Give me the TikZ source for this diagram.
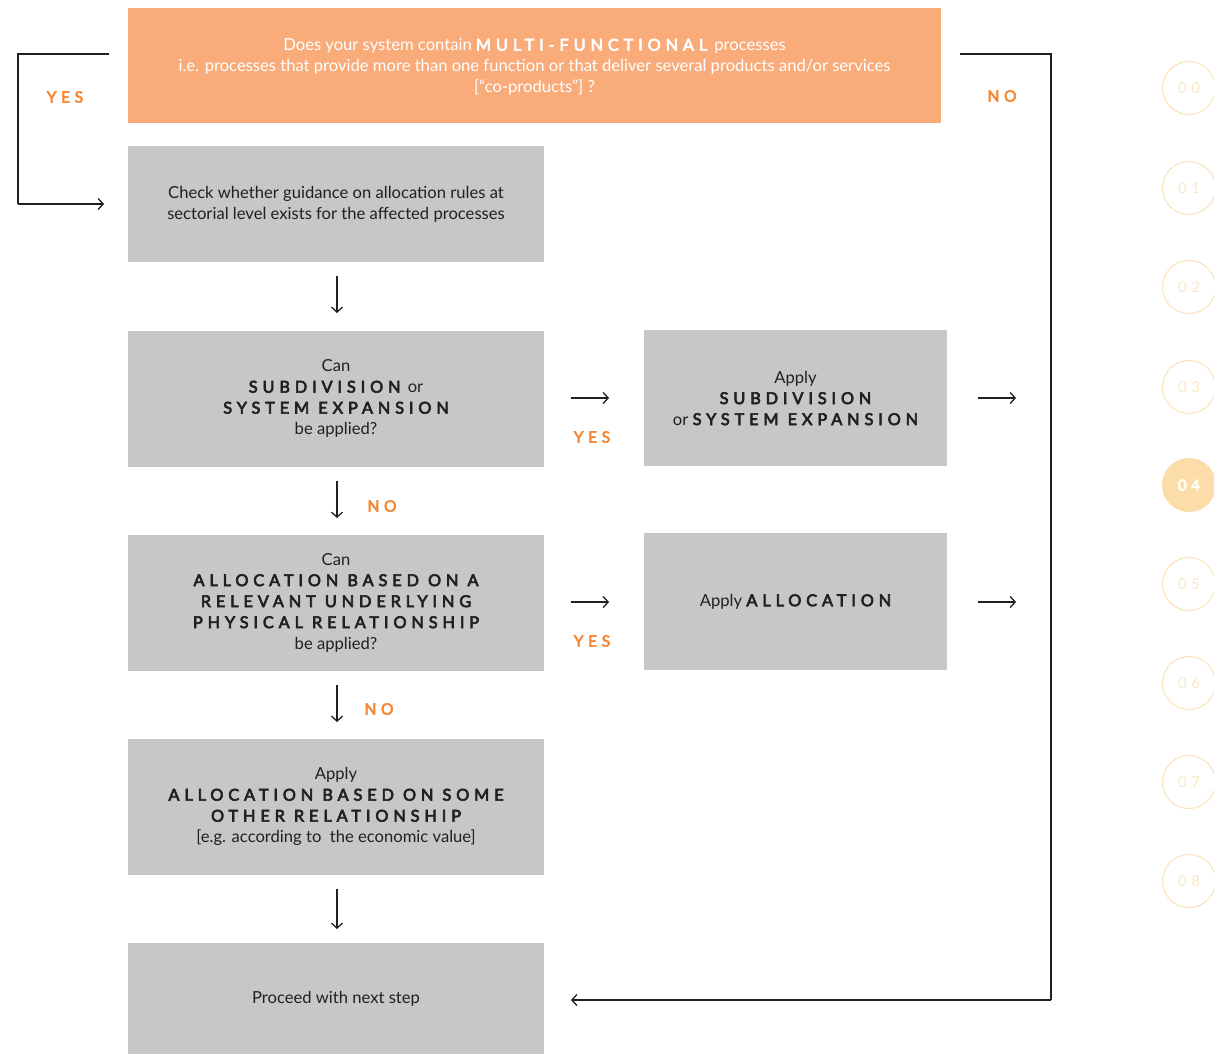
\documentclass[tikz,border=0pt]{standalone}
\usepackage{fontspec}
\setmainfont{Lato}
\newfontfamily\capsfont[LetterSpace=30,FakeBold=4]{Lato}
\newfontfamily\circfont[LetterSpace=30]{Lato}
\usetikzlibrary{arrows.meta}
\definecolor{orangebox}{HTML}{F9AC7A}
\definecolor{graybox}{HTML}{C6C7C7}
\definecolor{txt}{HTML}{231F20}
\definecolor{lbl}{HTML}{F58634}
\definecolor{circ}{HTML}{FDE0B5}
\definecolor{circfill}{HTML}{FCDCA8}
\newcommand{\CAPS}[1]{{\capsfont #1}}
\newcommand{\cs}{\fontsize{16.3}{21}\selectfont}
\tikzset{
  box/.style={fill=graybox, draw=none, inner sep=0pt, align=center, text=txt,
    font=\fontsize{16.6}{21}\selectfont},
  conn/.style={draw=txt, line width=1.3pt, -{Straight Barb[length=5pt,width=11pt,line width=1.3pt]}},
  loop/.style={draw=txt, line width=1.3pt},
  lab/.style={text=lbl, font=\capsfont\fontsize{15.5}{18}\selectfont},
  stepc/.style={circle, draw=circ, line width=1pt, minimum size=53pt, inner sep=0pt,
    text=circ!80, font=\circfont\fontsize{15}{16}\selectfont},
}
\begin{document}
\begin{tikzpicture}[x=1pt,y=-1pt]
\useasboundingbox (0,0) rectangle (1214,1055);
% boxes
\node[box, fill=orangebox, minimum width=813pt, minimum height=115pt] (q) at (534.5,65) {};
\node[align=center, text=white, inner sep=0pt, font=\fontsize{16.6}{21}\selectfont] (qt) at (534.5,67)
  {Does your system contain \CAPS{\cs MULTI-FUNCTIONAL}\hspace{3pt} processes\\
   i.e. processes that provide more than one function or that deliver several products and/or services\\
   {[“co-products”] ?}};
\node[box, minimum width=416pt, minimum height=116pt] (b1) at (336,204)
  {Check whether guidance on allocation rules at\\ sectorial level exists for the affected processes};
\node[box, minimum width=416pt, minimum height=136pt] (b2) at (336,398.5)
  {Can\\ \CAPS{\cs SUBDIVISION}\hspace{3pt} or\\ \CAPS{\cs SYSTEM EXPANSION}\\ be applied?};
\node[box, minimum width=303pt, minimum height=136pt] (a1) at (795.5,398)
  {Apply\\ \CAPS{\cs SUBDIVISION}\\ or \CAPS{\cs SYSTEM EXPANSION}};
\node[box, minimum width=416pt, minimum height=136pt] (b3) at (336,602.5)
  {Can\\ \CAPS{\cs ALLOCATION BASED ON A}\\ \CAPS{\cs RELEVANT UNDERLYING}\\ \CAPS{\cs PHYSICAL RELATIONSHIP}\\ be applied?};
\node[box, minimum width=303pt, minimum height=137pt] (a2) at (795.5,601.5)
  {Apply \CAPS{\cs ALLOCATION}};
\node[box, minimum width=416pt, minimum height=136pt] (b4) at (336,806.5)
  {Apply\\ \CAPS{\cs ALLOCATION BASED ON SOME}\\ \CAPS{\cs OTHER RELATIONSHIP}\\ {[e.g. according to\ \ the economic value]}};
\node[box, minimum width=416pt, minimum height=111pt] (b5) at (336,998.5)
  {Proceed with next step};
% connector coordinates
\coordinate (yl1) at (109,54); \coordinate (yl2) at (18,54); \coordinate (yl3) at (18,204); \coordinate (yl4) at (104,204);
\coordinate (nl1) at (960,54); \coordinate (nl2) at (1051,54); \coordinate (nl3) at (1051,1000); \coordinate (nl4) at (571,1000);
\draw[loop] (yl1) -- (yl2) -- (yl3);
\draw[conn] (yl3) -- (yl4);
\draw[loop] (nl1) -- (nl2) -- (nl3);
\draw[conn] (nl3) -- (nl4);
% short arrows
\coordinate (d1a) at (337,276); \coordinate (d1b) at (337,313);
\coordinate (d2a) at (337,481); \coordinate (d2b) at (337,518);
\coordinate (d3a) at (337,685); \coordinate (d3b) at (337,722);
\coordinate (d4a) at (337,889); \coordinate (d4b) at (337,929);
\coordinate (r1a) at (571,398); \coordinate (r1b) at (609,398);
\coordinate (r2a) at (571,602); \coordinate (r2b) at (609,602);
\coordinate (r3a) at (978,398); \coordinate (r3b) at (1016,398);
\coordinate (r4a) at (978,602); \coordinate (r4b) at (1016,602);
\foreach \p in {d1,d2,d3,d4,r1,r2,r3,r4} \draw[conn] (\p a) -- (\p b);
% labels
\node[lab] (ly1) at (65,97) {YES};
\node[lab] (ln1) at (1002,96) {NO};
\node[lab] (ly2) at (592,437) {YES};
\node[lab] (ly3) at (592,641) {YES};
\node[lab] (ln2) at (382,506) {NO};
\node[lab] (ln3) at (379,709) {NO};
% step circles
\foreach \n/\y in {00/88,01/188,02/287,03/387,05/584,06/683,07/782,08/881}
  \node[stepc] (s\n) at (1189,\y) {\n};
\node[stepc, fill=circfill, draw=circfill, text=white, font=\capsfont\fontsize{15}{16}\selectfont] (s04) at (1189,485) {04};
\end{tikzpicture}
\end{document}
